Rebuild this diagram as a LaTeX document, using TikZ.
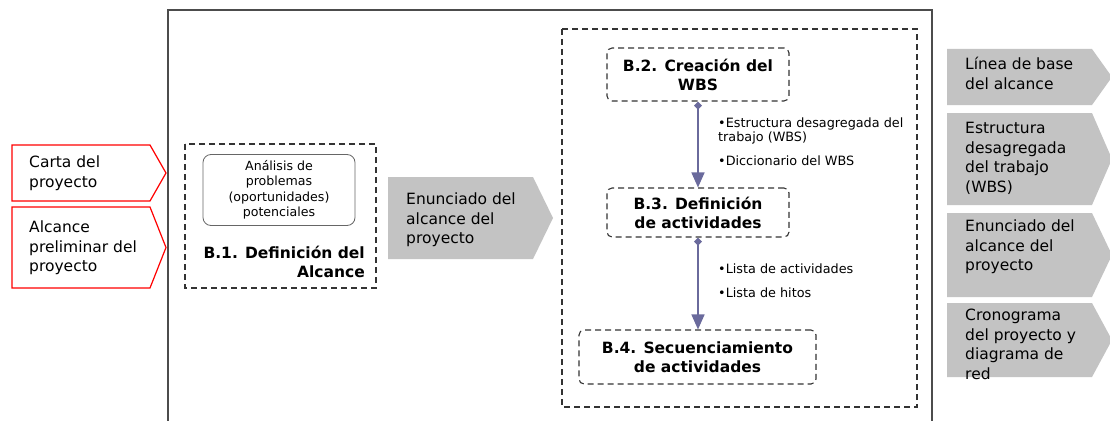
\documentclass[tikz,border=0pt]{standalone}
\usepackage{fontspec}
\setmainfont{DejaVu Sans}
\usetikzlibrary{arrows.meta}
\definecolor{arrgray}{HTML}{C3C3C3}
\definecolor{flowc}{HTML}{6A6A9C}
\definecolor{boxc}{HTML}{333333}
\begin{document}
\begin{tikzpicture}[x=1pt,y=-1pt,
  dbox/.style={draw=boxc,line width=1.1pt,dash pattern=on 6pt off 4pt,rounded corners=5pt},
  ttl/.style={font=\fontsize{15.5}{19}\selectfont\bfseries,align=center,text=black},
  atext/.style={font=\fontsize{15.5}{19.5}\selectfont,align=left,anchor=north west,inner sep=0pt},
  btext/.style={font=\fontsize{12.8}{14}\selectfont,align=left,anchor=north west,inner sep=0pt},
  flow/.style={draw=flowc,line width=1.6pt,{Diamond[length=8pt,width=8pt]}-{Triangle[length=15pt,width=13pt]}},
  redarr/.style={draw=red,line width=1.2pt,fill=white},
  grayarr/.style={fill=arrgray,draw=none}]
\useasboundingbox (0,0) rectangle (1110,420);
% outer frame
\draw[draw=black!70,line width=1.5pt] (168,430) -- (168,10) -- (932,10) -- (932,430);
% left red arrows
\path[redarr] (12,145) -- (150,145) -- (166,173) -- (150,201) -- (12,201) -- cycle;
\node[atext] (carta) at (29,156) {Carta del\\proyecto};
\path[redarr] (12,207) -- (150,207) -- (166,247.5) -- (150,288) -- (12,288) -- cycle;
\node[atext] (alcpre) at (29,221) {Alcance\\preliminar del\\proyecto};
% B.1 box
\draw[dbox,rounded corners=0pt] (185,144) rectangle (376,288);
\node[draw=black!60,line width=0.8pt,rounded corners=8pt,minimum width=152pt,minimum height=71pt,
  font=\fontsize{12.6}{15.5}\selectfont,align=center,inner sep=0pt] (anal) at (279,190)
  {Análisis de\\problemas\\(oportunidades)\\potenciales};
\node[ttl,align=right,anchor=north east,inner sep=0pt] (b1) at (365,246) {B.1. Definición del\\Alcance};
% middle gray arrow
\path[grayarr] (388,177) -- (533,177) -- (553,218) -- (533,259) -- (388,259) -- cycle;
\node[atext] (enun) at (406,193) {Enunciado del\\alcance del\\proyecto};
% right dashed container
\draw[dbox,rounded corners=0pt] (562,29) rectangle (917,407);
\node[dbox,ttl,minimum width=182pt,minimum height=53pt,inner sep=0pt] (b2) at (698,74.5) {B.2. Creación del\\WBS};
\node[dbox,ttl,minimum width=182pt,minimum height=49pt,inner sep=0pt] (b3) at (698,212.5) {B.3. Definición\\de actividades};
\node[dbox,ttl,minimum width=237pt,minimum height=54pt,inner sep=0pt] (b4) at (697.5,357) {B.4. Secuenciamiento\\de actividades};
\draw[flow] (b2.south) -- (b3.north);
\draw[flow] (b3.south) -- (b4.north -| b3.south);
\node[btext] (l1) at (718,118) {•Estructura desagregada del\\trabajo (WBS)};
\node[btext] (l2) at (718,156) {•Diccionario del WBS};
\node[btext] (l3) at (718,264) {•Lista de actividades};
\node[btext] (l4) at (718,288) {•Lista de hitos};
% right gray arrows
\path[grayarr] (947,49) -- (1092,49) -- (1112,77) -- (1092,105) -- (947,105) -- cycle;
\node[atext] (o1) at (965,57) {Línea de base\\del alcance};
\path[grayarr] (947,113) -- (1092,113) -- (1112,159) -- (1092,205) -- (947,205) -- cycle;
\node[atext] (o2) at (965,122) {Estructura\\desagregada\\del trabajo\\(WBS)};
\path[grayarr] (947,213) -- (1092,213) -- (1112,255) -- (1092,297) -- (947,297) -- cycle;
\node[atext] (o3) at (965,220) {Enunciado del\\alcance del\\proyecto};
\path[grayarr] (947,303) -- (1092,303) -- (1112,340) -- (1092,377) -- (947,377) -- cycle;
\node[atext] (o4) at (965,309) {Cronograma\\del proyecto y\\diagrama de\\red};
\end{tikzpicture}
\end{document}
